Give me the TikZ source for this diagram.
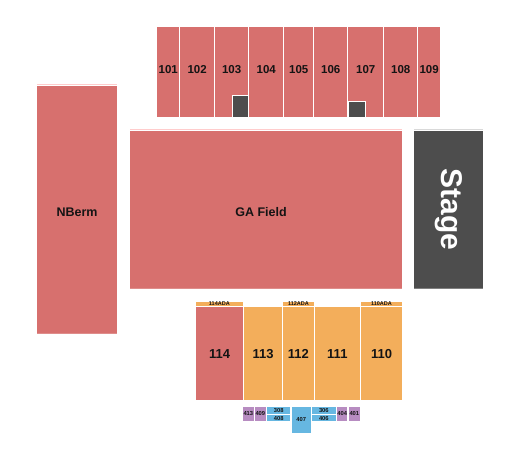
\documentclass[tikz,border=0pt]{standalone}
\usepackage{fontspec}
\setmainfont{Liberation Sans}
\definecolor{secred}{HTML}{D7706E}
\definecolor{secorange}{HTML}{F3AE5B}
\definecolor{secblue}{HTML}{66B7E1}
\definecolor{secpurple}{HTML}{B78CC1}
\definecolor{stagegray}{HTML}{4D4D4D}
\definecolor{txt}{HTML}{141414}
% #1 name, #2-#5 box, #6 style, #7 text, #8 text offset
\newcommand\seat[8]{%
  \node[#6, minimum width={(#4-#2)*1pt}, minimum height={(#5-#3)*1pt}, anchor=north west] (#1) at (#2,#3) {};
  \node[#6, fill=none, draw=none, inner sep=0pt] (#1-l) at ([shift={(#8)}]#1.center) {#7};}
\tikzset{
  base/.style={inner sep=0pt, outer sep=0pt, text=txt, font=\bfseries},
  red/.style={base, fill=secred},
  orange/.style={base, fill=secorange},
  blue/.style={base, fill=secblue, font=\bfseries\fontsize{5.8}{5.8}\selectfont},
  purple/.style={base, fill=secpurple, font=\bfseries\fontsize{5.8}{5.8}\selectfont},
  dark/.style={base, fill=stagegray},
  toprow/.style={red, font=\bfseries\fontsize{11.5}{12}\selectfont},
  botrow/.style={font=\bfseries\fontsize{13}{14}\selectfont},
  ada/.style={orange, font=\bfseries\fontsize{5.5}{5.5}\selectfont},
  big/.style={red, font=\bfseries\fontsize{12.5}{13}\selectfont},
  edge/.style={line width=1.2pt}
}
\begin{document}
\begin{tikzpicture}[x=1pt,y=-1pt]
\useasboundingbox[fill=white] (0,0) rectangle (525,450);
% top row
\seat{s101}{157.3}{27}{179.3}{117}{toprow}{101}{0,-2}
\seat{s102}{180.3}{27}{214}{117}{toprow}{102}{0,-2}
\seat{s103}{215}{27}{248.3}{117}{toprow}{103}{0,-2}
\seat{s104}{249.3}{27}{283.3}{117}{toprow}{104}{0,-2}
\seat{s105}{284.3}{27}{313.3}{117}{toprow}{105}{0,-2}
\seat{s106}{314.3}{27}{347.3}{117}{toprow}{106}{0,-2}
\seat{s107}{348.3}{27}{383.3}{117}{toprow}{107}{0,-2}
\seat{s108}{384.3}{27}{417.3}{117}{toprow}{108}{0,-2}
\seat{s109}{418.3}{27}{440}{117}{toprow}{109}{0,-2}
\node[dark, draw=white, line width=0.8pt, minimum width=16.3pt, minimum height=21.7pt, anchor=north west] (d103) at (232,95.3) {};
\node[dark, draw=white, line width=0.8pt, minimum width=17pt, minimum height=16pt, anchor=north west] (d107) at (348.3,101) {};
% field, berm, stage
\seat{berm}{37}{86}{117}{333.3}{big}{NBerm}{0,2.5}
\seat{ga}{130}{131}{402}{288.3}{big}{GA Field}{-5,2.5}
\node[dark, minimum width=69pt, minimum height=157.3pt, anchor=north west] (stage) at (414,131) {};
\node[text=white, font=\bfseries\fontsize{30}{30}\selectfont, rotate=-90, inner sep=0pt] (stagelbl) at (stage.center) {Stage};
\draw[edge, red!20] ([yshift=1.6pt]berm.north west) -- ([yshift=1.6pt]berm.north east);
\draw[edge, red!20] ([yshift=1.6pt]ga.north west) -- ([yshift=1.6pt]ga.north east);
\draw[edge, gray!30] ([yshift=1.6pt]stage.north west) -- ([yshift=1.6pt]stage.north east);
\draw[line width=0.8pt, secred!80!white] (berm.south west) -- (berm.south east);
\draw[line width=0.8pt, secred!80!white] (ga.south west) -- (ga.south east);
\draw[line width=0.8pt, gray] (stage.south west) -- (stage.south east);
% ADA
\seat{a114}{195.7}{301.7}{243}{306}{ada}{114ADA}{0,0}
\seat{a112}{283}{301.7}{314}{306}{ada}{112ADA}{0,0}
\seat{a110}{361}{301.7}{402}{306}{ada}{110ADA}{0,0}
% bottom sections
\seat{s114}{196}{307}{243}{399.7}{red, botrow}{114}{0,1}
\seat{s113}{244}{307}{282}{399.7}{orange, botrow}{113}{0,1}
\seat{s112}{283}{307}{313.7}{399.7}{orange, botrow}{112}{0,1}
\seat{s111}{315}{307}{359.7}{399.7}{orange, botrow}{111}{0,1}
\seat{s110}{361}{307}{402}{399.7}{orange, botrow}{110}{0,1}
% small sections
\seat{s413}{243}{406.7}{253.7}{421}{purple}{413}{0,0}
\seat{s409}{254.7}{406.7}{266}{421}{purple}{409}{0,0}
\seat{s308}{267}{406.7}{290.3}{414}{blue}{308}{0,0}
\seat{s408}{267}{415}{290.3}{421}{blue}{408}{0,0}
\seat{s407}{291.7}{406.7}{310.7}{432.7}{blue}{407}{0,0}
\seat{s306}{312}{406.7}{335.7}{414}{blue}{306}{0,0}
\seat{s406}{312}{415}{335.7}{421}{blue}{406}{0,0}
\seat{s404}{337}{406.7}{347.3}{421}{purple}{404}{0,0}
\seat{s401}{348.7}{406.7}{360}{421}{purple}{401}{0,0}
\end{tikzpicture}
\end{document}
